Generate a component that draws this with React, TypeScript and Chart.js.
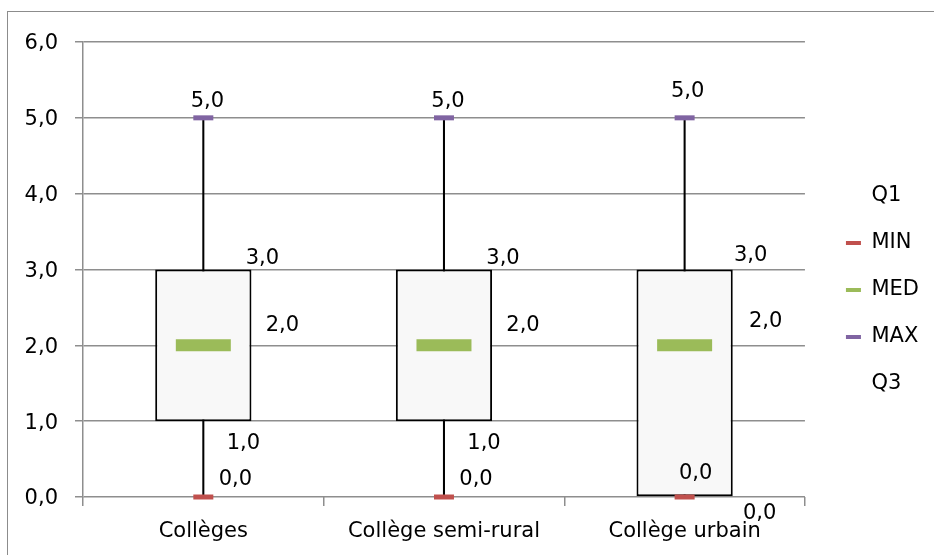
import React, { useEffect, useRef } from 'react';
import { Chart, registerables } from 'chart.js';

Chart.register(...registerables);

// ---- data ----
const categories = ['Collèges', 'Collège semi-rural', 'Collège urbain'];
const minValues = [0, 0, 0];
const q1Values = [1, 1, 0];
const medValues = [2, 2, 2];
const q3Values = [3, 3, 3];
const maxValues = [5, 5, 5];
const yMin = 0;
const yMax = 6;
const yStep = 1;
const legendNames = ['Q1', 'MIN', 'MED', 'MAX', 'Q3'];

// ---- styles ----
const FONT = 'DejaVu Sans';
const FONT_SIZE = 21;
const GRID = '#8e8e8e';
const RED = '#C0504D';
const GREEN = '#9BBB59';
const PURPLE = '#8064A2';
const BOX_FILL = '#F8F8F8';

const fmt = (v: number) => v.toFixed(1).replace('.', ',');

// label offsets (px) relative to the category centre and the value's pixel
const OFFSETS_NORMAL = {
  max: [4, -18.5],
  q3: [59, -13],
  med: [79, -22],
  q1: [40, 20],
  min: [32, -19],
};
const OFFSETS_COLLIDE = {
  max: [3, -28.5],
  q3: [66, -16],
  med: [81, -26],
  q1: [75, 15],
  min: [11, -25],
};

const valueLabels = {
  id: 'valueLabels',
  afterDatasetsDraw(chart: any) {
    const { ctx } = chart;
    const xs = chart.scales.x;
    const ys = chart.scales.y;
    ctx.save();
    ctx.font = `${FONT_SIZE}px "${FONT}"`;
    ctx.fillStyle = '#000';
    ctx.textAlign = 'center';
    ctx.textBaseline = 'middle';
    categories.forEach((_, i) => {
      const cx = xs.getPixelForValue(i);
      const off = q1Values[i] === minValues[i] ? OFFSETS_COLLIDE : OFFSETS_NORMAL;
      const put = (v: number, o: number[]) => {
        ctx.fillText(fmt(v), cx + o[0], ys.getPixelForValue(v) + o[1] + 2);
      };
      put(maxValues[i], off.max);
      put(q3Values[i], off.q3);
      put(medValues[i], off.med);
      put(q1Values[i], off.q1);
      put(minValues[i], off.min);
    });
    ctx.restore();
  },
};

export default function App() {
  const ref = useRef<HTMLCanvasElement | null>(null);

  useEffect(() => {
    if (!ref.current) return;
    const legendColors = ['rgba(0,0,0,0)', RED, GREEN, PURPLE, 'rgba(0,0,0,0)'];
    const chart = new Chart(ref.current, {
      type: 'bar',
      data: {
        labels: categories,
        datasets: [
          {
            type: 'line',
            label: 'MIN',
            data: minValues,
            showLine: false,
            pointStyle: 'line',
            pointRadius: 10,
            pointBorderWidth: 5,
            pointBorderColor: RED,
            pointBackgroundColor: RED,
            borderColor: RED,
            clip: false,
            order: 0,
          } as any,
          {
            type: 'line',
            label: 'MED',
            data: medValues,
            showLine: false,
            pointStyle: 'line',
            pointRadius: 27.5,
            pointBorderWidth: 12,
            pointBorderColor: GREEN,
            pointBackgroundColor: GREEN,
            borderColor: GREEN,
            clip: false,
            order: 0,
          } as any,
          {
            type: 'line',
            label: 'MAX',
            data: maxValues,
            showLine: false,
            pointStyle: 'line',
            pointRadius: 10,
            pointBorderWidth: 5,
            pointBorderColor: PURPLE,
            pointBackgroundColor: PURPLE,
            borderColor: PURPLE,
            clip: false,
            order: 0,
          } as any,
          {
            type: 'bar',
            label: 'Box',
            data: categories.map((_, i) => [q1Values[i], q3Values[i]]),
            backgroundColor: BOX_FILL,
            borderColor: '#000',
            borderWidth: 2,
            borderSkipped: false,
            grouped: false,
            barPercentage: 0.4,
            categoryPercentage: 1,
            order: 1,
          } as any,
          {
            type: 'bar',
            label: 'Whisker',
            data: categories.map((_, i) => [minValues[i], maxValues[i]]),
            backgroundColor: '#000',
            borderWidth: 0,
            grouped: false,
            barPercentage: 0.0085,
            categoryPercentage: 1,
            order: 2,
          } as any,
        ],
      },
      options: {
        responsive: false,
        animation: false,
        events: [],
        layout: { padding: { top: 25, left: 0, right: 5, bottom: 0 } },
        scales: {
          x: {
            type: 'category',
            offset: true,
            grid: {
              display: true,
              drawOnChartArea: false,
              drawTicks: true,
              tickLength: 9,
              color: GRID,
              lineWidth: 1.5,
              offset: true,
            },
            border: { display: false },
            ticks: {
              color: '#000',
              font: { family: FONT, size: FONT_SIZE },
              padding: 13,
              maxRotation: 0,
              autoSkip: false,
            },
            afterFit: (s: any) => {
              s.height = 58;
            },
          },
          topSpacer: {
            type: 'category',
            axis: 'x',
            position: 'top',
            display: true,
            grid: { display: false, drawTicks: false },
            border: { display: false },
            ticks: { display: false },
            afterFit: (s: any) => {
              s.height = 17;
            },
          } as any,
          y: {
            type: 'linear',
            min: yMin,
            max: yMax,
            grid: {
              color: GRID,
              lineWidth: 1.5,
              tickLength: 8,
              drawTicks: true,
            },
            border: { display: true, color: GRID, width: 1.5 },
            ticks: {
              stepSize: yStep,
              color: '#000',
              font: { family: FONT, size: FONT_SIZE },
              padding: 17,
              labelOffset: 2,
              callback: (v: any) => fmt(Number(v)),
            },
            afterFit: (s: any) => {
              s.width = 83;
            },
          },
          spacer: {
            type: 'linear',
            axis: 'y',
            position: 'right',
            display: true,
            grid: { display: false, drawTicks: false },
            border: { display: false },
            ticks: { display: false },
            afterFit: (s: any) => {
              s.width = 15;
            },
          } as any,
        },
        plugins: {
          tooltip: { enabled: false },
          title: { display: false },
          legend: {
            display: true,
            position: 'right',
            align: 'center',
            labels: {
              color: '#000',
              font: { family: FONT, size: FONT_SIZE },
              boxWidth: 15,
              boxHeight: 4,
              padding: 26,
              generateLabels: () =>
                legendNames.map((name, i) => ({
                  text: name,
                  fillStyle: legendColors[i],
                  strokeStyle: legendColors[i],
                  lineWidth: 0,
                  hidden: false,
                  datasetIndex: 0,
                  fontColor: '#000',
                })),
            },
          },
        },
      } as any,
      plugins: [valueLabels],
    });
    return () => chart.destroy();
  }, []);

  return (
    <div
      style={{
        position: 'absolute',
        left: 0,
        top: 0,
        width: 934,
        height: 555,
        overflow: 'hidden',
        background: '#fff',
      }}
    >
      <div
        style={{
          position: 'absolute',
          left: 7,
          top: 11,
          width: 2000,
          height: 2000,
          border: '1.5px solid #8c8c8c',
        }}
      />
      <canvas
        ref={ref}
        width={934}
        height={555}
        style={{ position: 'absolute', left: 0, top: 0 }}
      />
    </div>
  );
}
